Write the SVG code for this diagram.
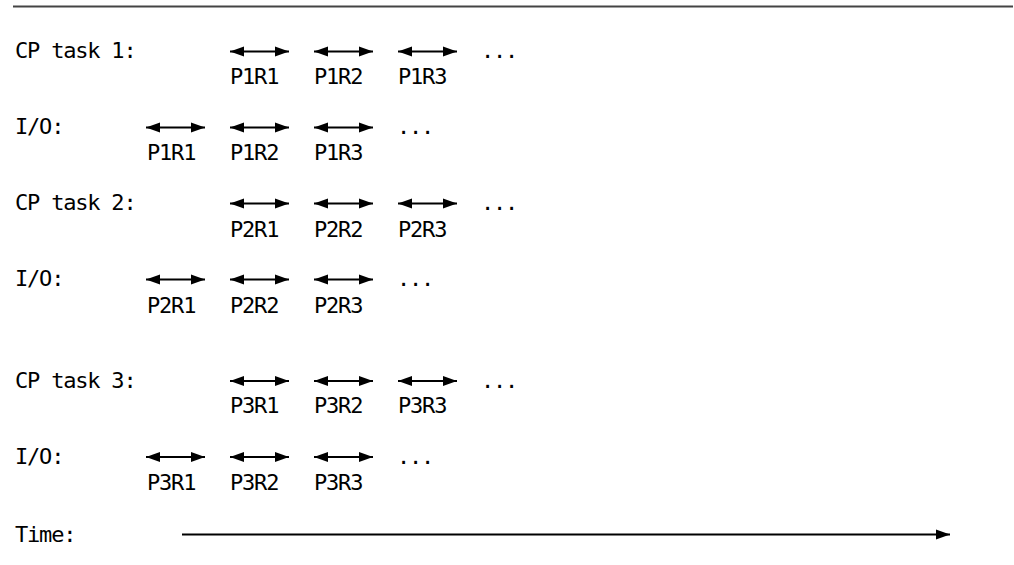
<svg xmlns="http://www.w3.org/2000/svg" width="1014" height="565" viewBox="0 0 1014 565">
<style>
text{font-family:"DejaVu Sans Mono","Liberation Mono",monospace;font-size:22px;letter-spacing:-1.2px;fill:#000}
.a{stroke:#000;stroke-width:2;fill:none;marker-start:url(#hs);marker-end:url(#he)}
.t{stroke:#000;stroke-width:1.8;fill:none;marker-end:url(#he)}
</style>
<defs>
<marker id="he" markerUnits="userSpaceOnUse" markerWidth="15" markerHeight="13" viewBox="0 0 15 13" refX="14" refY="6.5" orient="auto"><path d="M0,1.5 L14,6.5 L0,11.5 Z" fill="#000"/></marker>
<marker id="hs" markerUnits="userSpaceOnUse" markerWidth="15" markerHeight="13" viewBox="0 0 15 13" refX="1" refY="6.5" orient="auto"><path d="M15,1.5 L1,6.5 L15,11.5 Z" fill="#000"/></marker>
</defs>
<rect width="1014" height="565" fill="#fff"/>
<line x1="13" y1="6.5" x2="1013" y2="6.5" stroke="#444" stroke-width="2.2"/>
<g id="row-cp1">
<text x="15" y="58">CP task 1:</text>
<text x="230" y="84">P1R1</text><text x="314" y="84">P1R2</text><text x="398" y="84">P1R3</text>
<text x="481" y="58">...</text>
</g>
<g id="row-io1">
<text x="15" y="134">I/O:</text>
<text x="147" y="160">P1R1</text><text x="230" y="160">P1R2</text><text x="314" y="160">P1R3</text>
<text x="397" y="134">...</text>
</g>
<g id="row-cp2">
<text x="15" y="210">CP task 2:</text>
<text x="230" y="236.5">P2R1</text><text x="314" y="236.5">P2R2</text><text x="398" y="236.5">P2R3</text>
<text x="481" y="210">...</text>
</g>
<g id="row-io2">
<text x="15" y="286">I/O:</text>
<text x="147" y="312.5">P2R1</text><text x="230" y="312.5">P2R2</text><text x="314" y="312.5">P2R3</text>
<text x="397" y="286">...</text>
</g>
<g id="row-cp3">
<text x="15" y="388">CP task 3:</text>
<text x="230" y="413">P3R1</text><text x="314" y="413">P3R2</text><text x="398" y="413">P3R3</text>
<text x="481" y="388">...</text>
</g>
<g id="row-io3">
<text x="15" y="464">I/O:</text>
<text x="147" y="490">P3R1</text><text x="230" y="490">P3R2</text><text x="314" y="490">P3R3</text>
<text x="397" y="464">...</text>
</g>
<g id="row-time">
<text x="15" y="542">Time:</text>
</g>
<g id="connectors">
<line class="a" x1="230" y1="51.5" x2="289" y2="51.5"/>
<line class="a" x1="314" y1="51.5" x2="373" y2="51.5"/>
<line class="a" x1="398" y1="51.5" x2="457" y2="51.5"/>
<line class="a" x1="146" y1="127.5" x2="205" y2="127.5"/>
<line class="a" x1="230" y1="127.5" x2="289" y2="127.5"/>
<line class="a" x1="314" y1="127.5" x2="373" y2="127.5"/>
<line class="a" x1="230" y1="203.5" x2="289" y2="203.5"/>
<line class="a" x1="314" y1="203.5" x2="373" y2="203.5"/>
<line class="a" x1="398" y1="203.5" x2="457" y2="203.5"/>
<line class="a" x1="146" y1="279.5" x2="205" y2="279.5"/>
<line class="a" x1="230" y1="279.5" x2="289" y2="279.5"/>
<line class="a" x1="314" y1="279.5" x2="373" y2="279.5"/>
<line class="a" x1="230" y1="381" x2="289" y2="381"/>
<line class="a" x1="314" y1="381" x2="373" y2="381"/>
<line class="a" x1="398" y1="381" x2="457" y2="381"/>
<line class="a" x1="146" y1="457" x2="205" y2="457"/>
<line class="a" x1="230" y1="457" x2="289" y2="457"/>
<line class="a" x1="314" y1="457" x2="373" y2="457"/>
<line class="t" x1="182" y1="534.5" x2="950" y2="534.5"/>
</g>
</svg>
